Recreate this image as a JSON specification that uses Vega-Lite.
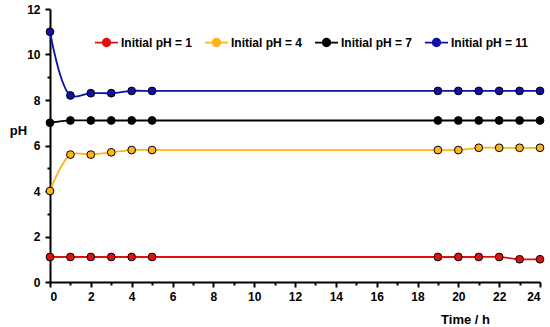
{
  "$schema": "https://vega.github.io/schema/vega-lite/v6.json",
  "width": 490,
  "height": 273,
  "autosize": "none",
  "padding": {"left": 50, "top": 9, "right": 10, "bottom": 45},
  "background": "white",
  "config": {
    "view": {"stroke": null},
    "font": "Liberation Sans"
  },
  "data": {
    "values": [
      {"t": 0, "pH": 1.1, "s": "Initial pH = 1"},
      {"t": 1, "pH": 1.1, "s": "Initial pH = 1"},
      {"t": 2, "pH": 1.1, "s": "Initial pH = 1"},
      {"t": 3, "pH": 1.1, "s": "Initial pH = 1"},
      {"t": 4, "pH": 1.1, "s": "Initial pH = 1"},
      {"t": 5, "pH": 1.1, "s": "Initial pH = 1"},
      {"t": 19, "pH": 1.1, "s": "Initial pH = 1"},
      {"t": 20, "pH": 1.1, "s": "Initial pH = 1"},
      {"t": 21, "pH": 1.1, "s": "Initial pH = 1"},
      {"t": 22, "pH": 1.1, "s": "Initial pH = 1"},
      {"t": 23, "pH": 1.0, "s": "Initial pH = 1"},
      {"t": 24, "pH": 1.0, "s": "Initial pH = 1"},
      {"t": 0, "pH": 4.0, "s": "Initial pH = 4"},
      {"t": 1, "pH": 5.6, "s": "Initial pH = 4"},
      {"t": 2, "pH": 5.6, "s": "Initial pH = 4"},
      {"t": 3, "pH": 5.7, "s": "Initial pH = 4"},
      {"t": 4, "pH": 5.8, "s": "Initial pH = 4"},
      {"t": 5, "pH": 5.8, "s": "Initial pH = 4"},
      {"t": 19, "pH": 5.8, "s": "Initial pH = 4"},
      {"t": 20, "pH": 5.8, "s": "Initial pH = 4"},
      {"t": 21, "pH": 5.9, "s": "Initial pH = 4"},
      {"t": 22, "pH": 5.9, "s": "Initial pH = 4"},
      {"t": 23, "pH": 5.9, "s": "Initial pH = 4"},
      {"t": 24, "pH": 5.9, "s": "Initial pH = 4"},
      {"t": 0, "pH": 7.0, "s": "Initial pH = 7"},
      {"t": 1, "pH": 7.1, "s": "Initial pH = 7"},
      {"t": 2, "pH": 7.1, "s": "Initial pH = 7"},
      {"t": 3, "pH": 7.1, "s": "Initial pH = 7"},
      {"t": 4, "pH": 7.1, "s": "Initial pH = 7"},
      {"t": 5, "pH": 7.1, "s": "Initial pH = 7"},
      {"t": 19, "pH": 7.1, "s": "Initial pH = 7"},
      {"t": 20, "pH": 7.1, "s": "Initial pH = 7"},
      {"t": 21, "pH": 7.1, "s": "Initial pH = 7"},
      {"t": 22, "pH": 7.1, "s": "Initial pH = 7"},
      {"t": 23, "pH": 7.1, "s": "Initial pH = 7"},
      {"t": 24, "pH": 7.1, "s": "Initial pH = 7"},
      {"t": 0, "pH": 11.0, "s": "Initial pH = 11"},
      {"t": 1, "pH": 8.2, "s": "Initial pH = 11"},
      {"t": 2, "pH": 8.3, "s": "Initial pH = 11"},
      {"t": 3, "pH": 8.3, "s": "Initial pH = 11"},
      {"t": 4, "pH": 8.4, "s": "Initial pH = 11"},
      {"t": 5, "pH": 8.4, "s": "Initial pH = 11"},
      {"t": 19, "pH": 8.4, "s": "Initial pH = 11"},
      {"t": 20, "pH": 8.4, "s": "Initial pH = 11"},
      {"t": 21, "pH": 8.4, "s": "Initial pH = 11"},
      {"t": 22, "pH": 8.4, "s": "Initial pH = 11"},
      {"t": 23, "pH": 8.4, "s": "Initial pH = 11"},
      {"t": 24, "pH": 8.4, "s": "Initial pH = 11"}
    ]
  },
  "encoding": {
    "x": {
      "field": "t", "type": "quantitative",
      "scale": {"domain": [0, 24], "nice": false, "zero": false},
      "axis": {
        "title": "Time / h",
        "values": [0,1,2,3,4,5,6,7,8,9,10,11,12,13,14,15,16,17,18,19,20,21,22,23,24],
        "labelExpr": "datum.value % 2 === 0 ? datum.label : ''",
        "tickSize": {"condition": {"test": "datum.value % 2 === 0", "value": 5}, "value": 3},
        "grid": false,
        "domainColor": "black", "domainWidth": 2,
        "tickColor": "black", "tickWidth": 2,
        "labelFont": "Liberation Sans", "labelFontWeight": "bold", "labelFontSize": 12, "labelColor": "black",
        "labelPadding": 4,
        "titleFont": "Liberation Sans", "titleFontWeight": "bold", "titleFontSize": 13, "titleColor": "black",
        "titleX": 415, "titleY": 31, "titleAnchor": "middle"
      }
    },
    "y": {
      "field": "pH", "type": "quantitative",
      "scale": {"domain": [0, 12], "nice": false},
      "axis": {
        "title": "pH",
        "values": [0,1,2,3,4,5,6,7,8,9,10,11,12],
        "labelExpr": "datum.value % 2 === 0 ? datum.label : ''",
        "tickSize": {"condition": {"test": "datum.value % 2 === 0", "value": 5}, "value": 3},
        "grid": false,
        "domainColor": "black", "domainWidth": 2,
        "tickColor": "black", "tickWidth": 2,
        "labelFont": "Liberation Sans", "labelFontWeight": "bold", "labelFontSize": 12, "labelColor": "black",
        "labelPadding": 5,
        "titleFont": "Liberation Sans", "titleFontWeight": "bold", "titleFontSize": 13, "titleColor": "black",
        "titleAngle": 0, "titleX": -32, "titleY": 121, "titleAlign": "center", "titleBaseline": "middle"
      }
    },
    "color": {
      "field": "s", "type": "nominal",
      "sort": ["Initial pH = 1", "Initial pH = 4", "Initial pH = 7", "Initial pH = 11"],
      "scale": {
        "domain": ["Initial pH = 1", "Initial pH = 4", "Initial pH = 7", "Initial pH = 11"],
        "range": ["#e01010", "#ffb31a", "#000000", "#1010a8"]
      },
      "legend": {
        "orient": "none", "direction": "horizontal",
        "legendX": 44, "legendY": 21,
        "title": null,
        "symbolType": "M-1,0H-0.33M0.33,0H1M-0.33,0A0.33,0.33 0 1 1 0.33,0A0.33,0.33 0 1 1 -0.33,0",
        "symbolSize": 530,
        "symbolStrokeWidth": 1.8,
        "symbolOpacity": 1,
        "labelFont": "Liberation Sans", "labelFontWeight": "bold", "labelFontSize": 12, "labelColor": "black",
        "labelOffset": 2,
        "columnPadding": 8
      }
    }
  },
  "layer": [
    {
      "mark": {"type": "line", "interpolate": "catmull-rom", "strokeWidth": 1.8}
    },
    {
      "mark": {"type": "point", "filled": true, "size": 60, "stroke": "black", "strokeWidth": 1, "opacity": 1, "strokeOpacity": 1}
    }
  ]
}
